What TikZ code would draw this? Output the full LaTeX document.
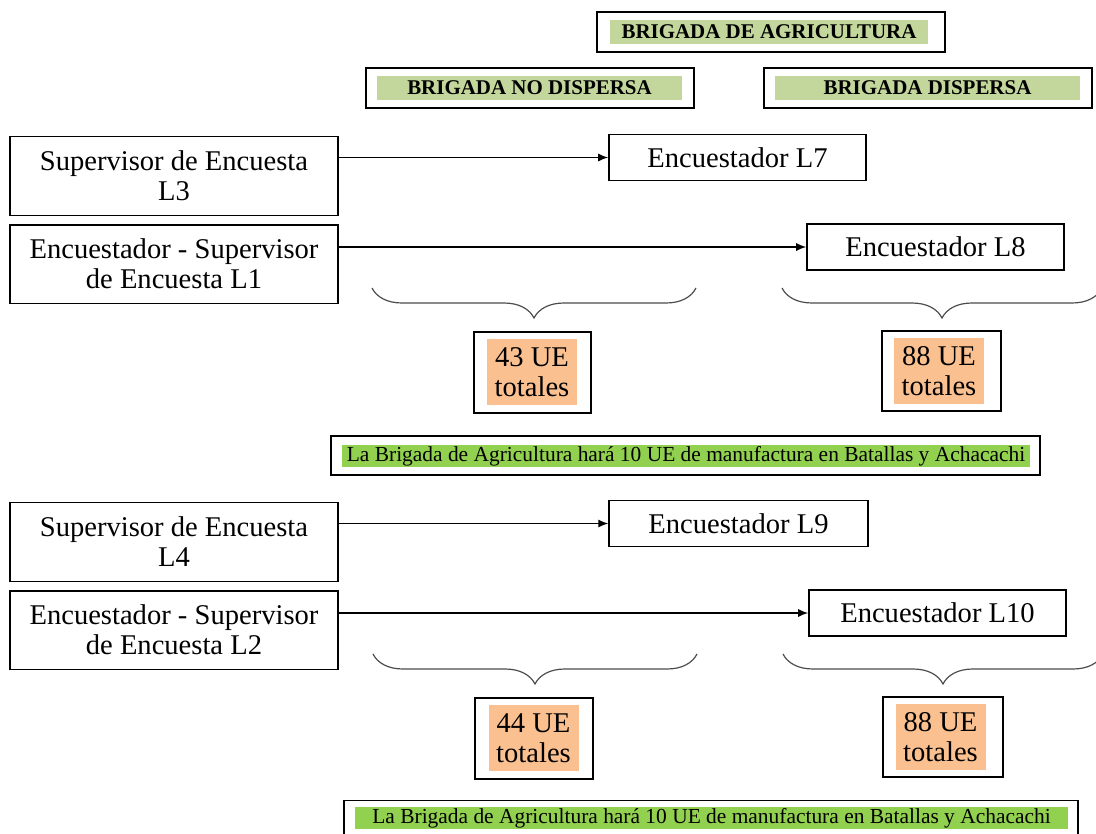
\documentclass[tikz,border=0pt]{standalone}
\usepackage{fontspec}
\setmainfont{Liberation Serif}
\usepackage{xcolor}
\usepackage{tikz}
\usetikzlibrary{positioning, decorations.pathreplacing, arrows.meta}
\definecolor{verdeclaro}{HTML}{C3D69B}
\definecolor{verdenota}{HTML}{92D050}
\definecolor{naranja}{HTML}{FAC090}

\begin{document}
\begin{tikzpicture}[x=0.42pt, y=-0.42pt,
                caja/.style={draw, line width=0.6pt, align=center, inner sep=0pt,
                  font=\fontsize{12}{12.6}\selectfont},
                jefe/.style={caja, minimum width=137.8pt, minimum height=33pt},
                enc/.style={caja, minimum width=108pt, minimum height=19.2pt},
                marco/.style={draw, line width=0.6pt, inner sep=0pt},
                titulo/.style={fill=verdeclaro, inner sep=0pt, minimum height=10.3pt,
                  font=\fontsize{8.8}{10}\selectfont\bfseries},
                total/.style={fill=naranja, inner sep=0pt, minimum width=37.8pt,
                  minimum height=27.7pt, align=center, font=\fontsize{12}{12.6}\selectfont},
                nota/.style={fill=verdenota, inner sep=0pt, minimum width=289pt,
                  minimum height=9.6pt, font=\fontsize{9}{10}\selectfont},
                llave/.style={decorate, decoration={brace, mirror, amplitude=12.6pt},
                  draw=black!70, line width=0.5pt},
                flecha/.style={-{Latex[length=4.2pt, width=3.4pt]}, line width=0.6pt}
                ]
                \clip (0,0) rectangle (1096,834);

                % encabezados
                \node [marco, minimum width=146.2pt, minimum height=16.8pt] (agrib) at (771,32) {};
                \node [titulo, minimum width=133.6pt] (agri) at (769,32) {BRIGADA DE AGRICULTURA};
                \node [marco, minimum width=137.8pt, minimum height=16.8pt] (nodispb) at (530,88) {};
                \node [titulo, minimum width=128.1pt] (nodisp) at (529.5,88) {BRIGADA NO DISPERSA};
                \node [marco, minimum width=137.8pt, minimum height=16.8pt] (dispb) at (928,88) {};
                \node [titulo, minimum width=128.1pt] (disp) at (927.5,88) {BRIGADA DISPERSA};

                % primer grupo
                \node [jefe] (L3) at (174,176) {Supervisor de Encuesta\\L3};
                \node [jefe, below=3.4pt of L3] (L1) {Encuestador - Supervisor\\de Encuesta L1};
                \node [enc] (L7) at (737.5,157.5) {Encuestador L7};
                \node [enc] (L8) at (935.5,247) {Encuestador L8};
                \draw [flecha] (L3.east |- L7.west) -- (L7.west);
                \draw [flecha] (L1.east |- L8.west) -- (L8.west);

                \coordinate (b1l) at (372,288);
                \coordinate (b1r) at (696,288);
                \coordinate (b2l) at (782,288);
                \coordinate (b2r) at (1102,288);
                \draw [llave] (b1l) -- (b1r);
                \draw [llave] (b2l) -- (b2r);

                \node [marco, minimum width=49.1pt, minimum height=34pt] (t1b) at (532.5,372.5) {};
                \node [total] (t1) at (532,372) {43 UE\\totales};
                \node [marco, minimum width=50pt, minimum height=33.6pt] (t2b) at (941.5,371) {};
                \node [total] (t2) at (939,371) {88 UE\\totales};

                \node [marco, minimum width=297.8pt, minimum height=16.4pt] (n1b) at (685.5,455.5) {};
                \node [nota] (n1) at (686,456) {La Brigada de Agricultura hará 10 UE de manufactura en Batallas y Achacachi};

                % segundo grupo
                \node [jefe] (L4) at (174,542) {Supervisor de Encuesta\\L4};
                \node [jefe, below=3.4pt of L4] (L2) {Encuestador - Supervisor\\de Encuesta L2};
                \node [enc, minimum width=108.8pt] (L9) at (738.5,523.5) {Encuestador L9};
                \node [enc] (L10) at (937.5,613) {Encuestador L10};
                \draw [flecha] (L4.east |- L9.west) -- (L9.west);
                \draw [flecha] (L2.east |- L10.west) -- (L10.west);

                \coordinate (b3l) at (373,654);
                \coordinate (b3r) at (697,654);
                \coordinate (b4l) at (783,654);
                \coordinate (b4r) at (1103,654);
                \draw [llave] (b3l) -- (b3r);
                \draw [llave] (b4l) -- (b4r);

                \node [marco, minimum width=49.6pt, minimum height=34pt] (t3b) at (534,738.5) {};
                \node [total] (t3) at (533.5,738) {44 UE\\totales};
                \node [marco, minimum width=50.4pt, minimum height=33.6pt] (t4b) at (943,737) {};
                \node [total] (t4) at (940.5,737) {88 UE\\totales};

                \node [marco, minimum width=308.3pt, minimum height=16.4pt] (n2b) at (711,820) {};
                \node [nota, minimum width=299.5pt] (n2) at (711.5,818) {La Brigada de Agricultura hará 10 UE de manufactura en Batallas y Achacachi};
            \end{tikzpicture}
\end{document}
